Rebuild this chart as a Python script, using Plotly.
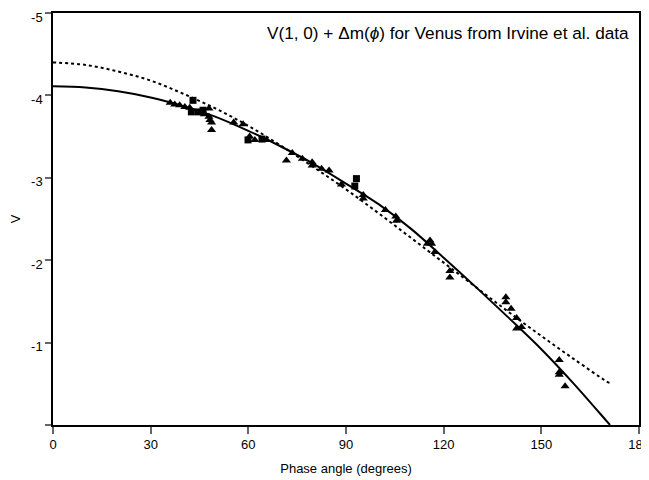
import plotly.graph_objects as go

# Solid model curve
solid_phase = [0, 10, 20, 30, 40, 50, 60, 70, 80, 90, 100, 110, 120, 130, 140, 150, 160, 170, 171.1]
solid_v = [-4.11, -4.095, -4.05, -3.975, -3.87, -3.74, -3.57, -3.38, -3.17, -2.93, -2.68, -2.38,
           -2.03, -1.67, -1.30, -0.92, -0.50, -0.05, 0.0]

# Dotted model curve
dot_phase = [0, 10, 20, 30, 40, 50, 60, 70, 80, 90, 100, 110, 120, 130, 140, 150, 160, 170, 171]
dot_v = [-4.40, -4.37, -4.29, -4.18, -4.02, -3.84, -3.63, -3.39, -3.13, -2.86, -2.57, -2.27,
         -1.97, -1.67, -1.37, -1.08, -0.80, -0.53, -0.51]

# Triangle observations
tri_phase = [36.0, 37.4, 38.9, 40.5, 42.0, 45.5, 46.5, 47.9, 47.9, 48.2, 48.7, 48.7, 55.5, 58.4,
             60.4, 62.0, 65.6, 71.7, 73.5, 76.6, 79.6, 79.6, 82.5, 84.8, 88.6, 95.3, 95.3,
             102.1, 105.3, 105.5, 115.0, 115.8, 116.3, 117.3, 121.9, 121.9, 139.1, 139.1,
             140.7, 142.4, 142.4, 143.9, 155.5, 155.5, 155.5, 157.3]
tri_v = [-3.91, -3.89, -3.88, -3.86, -3.85, -3.79, -3.77, -3.84, -3.74, -3.70, -3.67, -3.58,
         -3.67, -3.65, -3.50, -3.46, -3.46, -3.21, -3.30, -3.23, -3.19, -3.15, -3.11, -3.09,
         -2.92, -2.79, -2.75, -2.61, -2.53, -2.48, -2.20, -2.24, -2.20, -2.10, -1.87, -1.79,
         -1.55, -1.49, -1.41, -1.30, -1.17, -1.19, -0.79, -0.64, -0.61, -0.47]

# Square observations
sq_phase = [43.0, 42.5, 44.6, 46.1, 59.9, 64.2, 92.7, 93.2]
sq_v = [-3.94, -3.80, -3.80, -3.82, -3.46, -3.47, -2.90, -2.99]

x_ticks = [0, 30, 60, 90, 120, 150, 180]
y_ticks = [-5, -4, -3, -2, -1, 0]
y_ticktext = ["-5", "-4", "-3", "-2", "-1", ""]

title_text = "V(1, 0) + \u0394m(<i>\u03d5</i>) for Venus from Irvine et al. data"

fig = go.Figure()
fig.add_trace(go.Scatter(x=dot_phase, y=dot_v, mode="lines", line=dict(color="black", width=2, dash="dot", shape="spline"),
                         showlegend=False, hoverinfo="skip"))
fig.add_trace(go.Scatter(x=solid_phase, y=solid_v, mode="lines", line=dict(color="black", width=2, shape="spline"),
                         showlegend=False, hoverinfo="skip"))
fig.add_trace(go.Scatter(x=tri_phase, y=tri_v, mode="markers",
                         marker=dict(symbol="triangle-up", color="black", size=8), showlegend=False))
fig.add_trace(go.Scatter(x=sq_phase, y=sq_v, mode="markers",
                         marker=dict(symbol="square", color="black", size=7), showlegend=False))

# page body adds an 8px offset, so the figure is sized to fill the rest of the window
fig.update_layout(
    width=641, height=472,
    margin=dict(l=45, r=10, t=5, b=55),
    paper_bgcolor="white", plot_bgcolor="white",
    font=dict(family="Liberation Sans, Arial, sans-serif", color="black", size=13),
    xaxis=dict(range=[0, 180], tickvals=x_ticks, showgrid=False, zeroline=False, automargin=False,
               ticklabeloverflow="allow",
               showline=True, linecolor="black", linewidth=1.5, mirror=True,
               ticks="outside", ticklen=7, tickwidth=1.5, tickcolor="#666",
               title=dict(text="Phase angle (degrees)", font=dict(size=13), standoff=13)),
    yaxis=dict(range=[0, -5], tickvals=y_ticks, ticktext=y_ticktext, showgrid=False, zeroline=False,
               automargin=False, ticklabeloverflow="allow", ticklabelshift=-4,
               showline=True, linecolor="black", linewidth=1.5, mirror=True,
               ticks="outside", ticklen=6, tickwidth=1.5, tickcolor="#666",
               title=dict(text="V", font=dict(size=13), standoff=14)),
    annotations=[dict(text=title_text, xref="paper", yref="paper", x=0.987, y=0.951,
                      xanchor="right", yanchor="middle", showarrow=False,
                      font=dict(size=17.2, color="black"))],
)

fig.write_html("out.html")
